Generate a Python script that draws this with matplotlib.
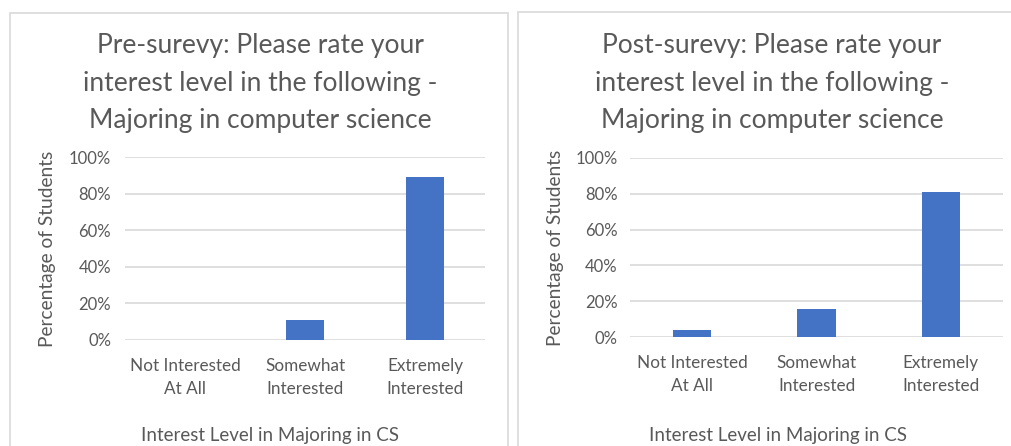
import matplotlib.pyplot as plt
from matplotlib.patches import Rectangle
from matplotlib.ticker import PercentFormatter

plt.rcParams['font.family'] = ['Lato', 'DejaVu Sans']

categories = ["Not Interested\nAt All", "Somewhat\nInterested", "Extremely\nInterested"]
pre_values = [0.0, 11.1, 88.9]
post_values = [3.8, 15.4, 80.8]
pre_title = "Pre-surevy: Please rate your\ninterest level in the following -\nMajoring in computer science"
post_title = "Post-surevy: Please rate your\ninterest level in the following -\nMajoring in computer science"
y_ticks = [0, 20, 40, 60, 80, 100]

W, H = 1011, 446
GREY = "#595959"
GRID = "#d9d9d9"
BLUE = "#4472c4"

fig = plt.figure(figsize=(W / 100, H / 100), dpi=100)


def fx(px):
    return px / W


def fy(py):
    return 1 - py / H


def panel(x0, x1, y_top, plot_l, plot_r, y100, y0, values, title, title_cx, xlabel_cx, ylabel_x, tick_pad, bar_w):
    # chart frame
    fig.patches.append(Rectangle((fx(x0), fy(460)), fx(x1 - x0), fy(y_top) - fy(460),
                                 transform=fig.transFigure, fill=False, edgecolor=GRID, lw=1.2))
    ax = fig.add_axes([fx(plot_l), fy(y0), fx(plot_r - plot_l), fy(y100) - fy(y0)])
    ax.bar(range(len(values)), values, width=bar_w, color=BLUE, zorder=3)
    ax.set_xlim(-0.5, len(values) - 0.5)
    ax.set_ylim(0, 100)
    ax.set_yticks(y_ticks)
    ax.yaxis.set_major_formatter(PercentFormatter(decimals=0))
    ax.set_xticks(range(len(values)))
    ax.set_xticklabels(categories, color=GREY, fontsize=12.3, linespacing=1.5)
    ax.tick_params(axis='both', length=0, colors=GREY)
    ax.tick_params(axis='y', labelsize=12, pad=tick_pad)
    ax.tick_params(axis='x', pad=13)
    ax.grid(axis='y', color=GRID, lw=1.2, zorder=0)
    for s in ax.spines.values():
        s.set_visible(False)
    fig.text(fx(title_cx), fy(83), title, ha='center', va='center', fontsize=19,
             color=GREY, linespacing=1.62)
    fig.text(fx(xlabel_cx), fy(436), "Interest Level in Majoring in CS", ha='center',
             va='center', fontsize=13.5, color=GREY)
    fig.text(fx(ylabel_x), fy((y100 + y0) / 2), "Percentage of Students", rotation=90,
             ha='center', va='center', fontsize=13.8, color=GREY)
    return ax


panel(10, 508, 13, 125, 485, 157, 340, pre_values, pre_title, 260, 270, 48, 18 - 8, 0.32)
panel(518, 1040, 12, 630, 1003, 158, 337, post_values, post_title, 772, 778, 555, 16 - 7, 0.31)

fig.savefig("out.png", dpi=100)
